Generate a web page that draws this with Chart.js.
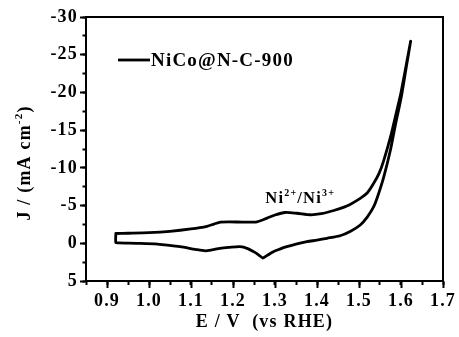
<!DOCTYPE html>
<html><head><meta charset="utf-8">
<script src="https://cdn.jsdelivr.net/npm/chart.js@4/dist/chart.umd.min.js"></script>
<style>html,body{margin:0;padding:0;background:#fff;}#wrap{width:459px;height:337px;}</style>
</head><body><div id="wrap"><canvas id="c" width="459" height="337"></canvas></div>
<script>
const seriesName = 'NiCo@N-C-900';
// forward (anodic) scan
const forwardE = [0.921, 0.95, 1.00, 1.05, 1.10, 1.138, 1.155, 1.17, 1.19, 1.23, 1.257, 1.28, 1.30, 1.324, 1.352, 1.384, 1.41, 1.44, 1.471, 1.503, 1.52, 1.535, 1.548, 1.559, 1.575, 1.59, 1.60, 1.611, 1.623];
const forwardJ = [-1.30, -1.33, -1.40, -1.58, -1.90, -2.25, -2.55, -2.80, -2.85, -2.80, -2.85, -3.31, -3.75, -4.08, -3.98, -3.78, -3.92, -4.35, -4.94, -5.96, -6.70, -7.95, -9.3, -11.0, -14.1, -17.6, -20.0, -23.2, -26.8];
// reverse (cathodic) scan
const reverseE = [1.613, 1.601, 1.586, 1.575, 1.559, 1.545, 1.535, 1.52, 1.503, 1.48, 1.455, 1.424, 1.40, 1.376, 1.35, 1.328, 1.31, 1.296, 1.283, 1.271, 1.26, 1.249, 1.235, 1.217, 1.19, 1.169, 1.15, 1.134, 1.11, 1.074, 1.02, 0.97, 0.927, 0.921];
const reverseJ = [-23.5, -19.5, -15.5, -12.4, -8.8, -6.3, -4.85, -3.5, -2.42, -1.6, -1.0, -0.66, -0.42, -0.21, 0.1, 0.45, 0.8, 1.11, 1.55, 1.95, 1.5, 1.11, 0.7, 0.45, 0.55, 0.67, 0.88, 1.0, 0.8, 0.45, 0.1, 0.0, -0.05, -0.1];
const xTickLabels = [0.9, 1.0, 1.1, 1.2, 1.3, 1.4, 1.5, 1.6, 1.7];
const yTickLabels = [-30, -25, -20, -15, -10, -5, 0, 5];
const xTitle = 'E / V  (vs RHE)';
const yTitleRuns = ['J / (mA cm', '-2', ')'];
const peakLabelRuns = ['Ni', '2+', '/Ni', '3+'];

const FONT = "'Liberation Serif','Times New Roman',serif";
const points = [];
forwardE.forEach((e, i) => points.push({x: e, y: forwardJ[i]}));
reverseE.forEach((e, i) => points.push({x: e, y: reverseJ[i]}));
points.push({x: forwardE[0], y: forwardJ[0]});

function drawRuns(ctx, runs, x, y, big, small, raise, align) {
  const fonts = runs.map((r, i) => 'bold ' + (i % 2 ? small : big) + 'px ' + FONT);
  let w = 0;
  const widths = runs.map((r, i) => { ctx.font = fonts[i]; const m = ctx.measureText(r).width; w += m; return m; });
  let cx = align === 'center' ? x - w / 2 : x;
  runs.forEach((r, i) => {
    ctx.font = fonts[i];
    ctx.fillText(r, cx, y + (i % 2 ? -raise : 0));
    cx += widths[i];
  });
}

const decor = {
  id: 'decor',
  beforeDraw(chart) { chart.ctx.letterSpacing = '1.2px'; },
  afterDraw(chart) {
    const ctx = chart.ctx, a = chart.chartArea;
    const xs = chart.scales.x, ys = chart.scales.y;
    ctx.save();
    ctx.letterSpacing = '1.2px';
    ctx.strokeStyle = '#000'; ctx.lineWidth = 2;
    ctx.beginPath();
    ctx.moveTo(a.left - 1, a.top); ctx.lineTo(a.right, a.top); ctx.lineTo(a.right, a.bottom + 1);
    ctx.stroke();
    ctx.fillStyle = '#000';
    // legend
    ctx.lineWidth = 2.8;
    ctx.beginPath(); ctx.moveTo(118, 60); ctx.lineTo(150, 60); ctx.stroke();
    ctx.textBaseline = 'middle'; ctx.textAlign = 'left';
    ctx.font = 'bold 19px ' + FONT;
    ctx.fillText(seriesName, 151, 61);
    // peak label
    ctx.textBaseline = 'alphabetic';
    drawRuns(ctx, peakLabelRuns, xs.getPixelForValue(1.277), ys.getPixelForValue(-5.35), 16.5, 10, 7, 'left');
    // x title
    ctx.textAlign = 'left'; ctx.textBaseline = 'middle';
    ctx.font = 'bold 18px ' + FONT;
    const tw = ctx.measureText(xTitle).width;
    ctx.fillText(xTitle, (a.left + a.right) / 2 - tw / 2, 322);
    // y title
    ctx.translate(25, 163);
    ctx.rotate(-Math.PI / 2);
    drawRuns(ctx, yTitleRuns, 0, 0, 18, 11, 6, 'center');
    ctx.restore();
  }
};

const tickFont = {family: FONT, size: 18, weight: 'bold'};
new Chart(document.getElementById('c'), {
  type: 'scatter',
  data: {datasets: [{
    label: seriesName, data: points, showLine: true, pointRadius: 0,
    borderColor: '#000', borderWidth: 2.8, tension: 0.25,
    borderJoinStyle: 'round', borderCapStyle: 'round', fill: false
  }]},
  options: {
    responsive: false, animation: false, devicePixelRatio: 1,
    layout: {padding: {left: 0, top: 17, right: 16, bottom: 0}},
    plugins: {legend: {display: false}, tooltip: {enabled: false}},
    scales: {
      xm: {type: 'linear', position: 'bottom', min: 0.85, max: 1.7,
        afterFit(s) { s.height = 0; },
        ticks: {display: false, stepSize: 0.05, includeBounds: false},
        grid: {drawOnChartArea: false, drawTicks: true, tickLength: 4, tickWidth: 2, tickColor: '#000'},
        border: {display: false}},
      ym: {type: 'linear', position: 'left', min: -30, max: 5, reverse: true,
        afterFit(s) { s.width = 0; },
        ticks: {display: false, stepSize: 2.5, includeBounds: false},
        grid: {drawOnChartArea: false, drawTicks: true, tickLength: 3.5, tickWidth: 2, tickColor: '#000'},
        border: {display: false}},
      x: {type: 'linear', position: 'bottom', min: 0.85, max: 1.7,
        afterFit(s) { s.height = 56; },
        afterBuildTicks(s) { s.ticks = xTickLabels.map(v => ({value: v})); },
        ticks: {color: '#000', font: tickFont, padding: 3, maxRotation: 0, autoSkip: false,
          callback: v => v.toFixed(1)},
        grid: {drawOnChartArea: false, drawTicks: true, tickLength: 7, tickWidth: 2, tickColor: '#000'},
        border: {display: true, color: '#000', width: 2}},
      y: {type: 'linear', position: 'left', min: -30, max: 5, reverse: true,
        afterFit(s) { s.width = 86; },
        afterBuildTicks(s) { s.ticks = yTickLabels.map(v => ({value: v})); },
        ticks: {color: '#000', font: tickFont, padding: 2, autoSkip: false,
          callback: v => String(v)},
        grid: {drawOnChartArea: false, drawTicks: true, tickLength: 6, tickWidth: 2, tickColor: '#000'},
        border: {display: true, color: '#000', width: 2}}
    }
  },
  plugins: [decor]
});
</script></body></html>
